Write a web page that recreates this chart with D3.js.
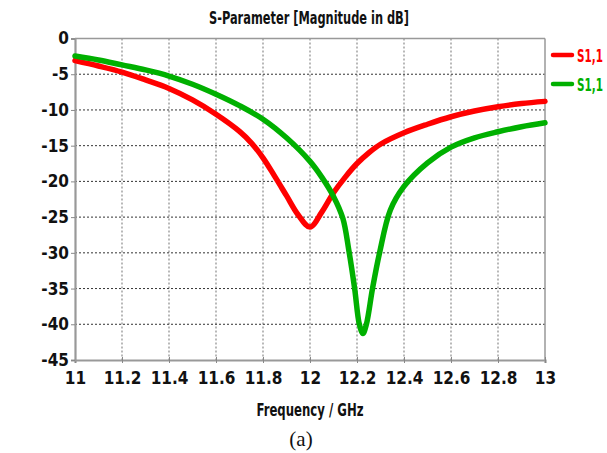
<!DOCTYPE html>
<html>
<head>
<meta charset="utf-8">
<script src="https://cdn.jsdelivr.net/npm/d3@7"></script>
<style>
  body { margin: 0; background: #fff; }
  text { font-family: "DejaVu Sans Condensed", "Liberation Sans Narrow", "DejaVu Sans", sans-serif; font-stretch: condensed; font-weight: bold; }
  text.serif { font-family: "Liberation Serif", serif; font-stretch: normal; font-weight: normal; }
</style>
</head>
<body>
<svg id="grafico" width="607" height="453"></svg>
<script>
// valores
const freqRojo = [11, 11.1, 11.2, 11.3, 11.4, 11.5, 11.6, 11.7, 11.75, 11.8, 11.85, 11.9, 11.95, 12.0, 12.05, 12.1, 12.15, 12.2, 12.25, 12.3, 12.4, 12.5, 12.6, 12.7, 12.8, 12.9, 13];
const s11Rojo = [-3.1, -3.85, -4.7, -5.8, -7.0, -8.6, -10.6, -13.0, -14.6, -16.7, -19.3, -22.0, -24.7, -26.4, -24.3, -21.6, -19.4, -17.5, -16.0, -14.8, -13.2, -12.0, -10.95, -10.15, -9.55, -9.1, -8.8];

const freqVerde = [11, 11.1, 11.2, 11.3, 11.4, 11.5, 11.6, 11.7, 11.8, 11.9, 12.0, 12.05, 12.1, 12.14, 12.165, 12.19, 12.21, 12.225, 12.24, 12.266, 12.296, 12.342, 12.4, 12.5, 12.6, 12.7, 12.8, 12.9, 13];
const s11Verde = [-2.45, -3.0, -3.7, -4.4, -5.25, -6.4, -7.8, -9.4, -11.3, -13.9, -17.2, -19.4, -22.1, -25.2, -29.6, -35, -40, -41.3, -40, -35, -30, -24, -20.7, -17.4, -15.2, -13.9, -13.05, -12.35, -11.8];

const ticksX = [11, 11.2, 11.4, 11.6, 11.8, 12, 12.2, 12.4, 12.6, 12.8, 13];
const ticksY = [0, -5, -10, -15, -20, -25, -30, -35, -40, -45];
const leyenda = ["S1,1", "S1,1"];

const svg = d3.select("#grafico");
const izq = 75, der = 545, arriba = 38.5, abajo = 360;

const x = d3.scaleLinear().domain([11, 13]).range([izq, der]);
const y = d3.scaleLinear().domain([0, -45]).range([arriba, abajo]);

// titulo
svg.append("text").attr("x", 309).attr("y", 24).attr("text-anchor", "middle")
  .attr("font-size", 18).attr("fill", "#111")
  .attr("textLength", 200).attr("lengthAdjust", "spacingAndGlyphs")
  .text("S-Parameter [Magnitude in dB]");

// rejilla
svg.append("g").selectAll("line").data(ticksX.slice(1, -1)).join("line")
  .attr("x1", d => x(d)).attr("x2", d => x(d)).attr("y1", arriba).attr("y2", abajo)
  .attr("stroke", "#8a8a8a").attr("stroke-width", 1.2).attr("stroke-dasharray", "2,2");
svg.append("g").selectAll("line").data(ticksY.slice(1, -1)).join("line")
  .attr("x1", izq).attr("x2", der).attr("y1", d => y(d)).attr("y2", d => y(d))
  .attr("stroke", "#333").attr("stroke-width", 1).attr("stroke-dasharray", "2,2");

// marco
svg.append("line").attr("x1", izq).attr("x2", der).attr("y1", arriba).attr("y2", arriba)
  .attr("stroke", "#999").attr("stroke-width", 1.5);
svg.append("line").attr("x1", der).attr("x2", der).attr("y1", arriba).attr("y2", abajo)
  .attr("stroke", "#999").attr("stroke-width", 1.5);

// ejes
const ejeX = svg.append("g").attr("transform", `translate(0,${abajo})`)
  .call(d3.axisBottom(x).tickValues(ticksX).tickSize(3).tickFormat(d => String(d)));
const ejeY = svg.append("g").attr("transform", `translate(${izq},0)`)
  .call(d3.axisLeft(y).tickValues(ticksY).tickSize(4).tickFormat(d => String(d)));
[ejeX, ejeY].forEach(g => {
  g.attr("font-family", null);
  g.select(".domain").attr("stroke", "#999").attr("stroke-width", 2.2);
  g.selectAll(".tick line").attr("stroke", "#888");
  g.selectAll("text").attr("font-size", 17).attr("fill", "#111");
});
ejeX.selectAll(".tick line").attr("y1", -3).attr("y2", 3);
ejeX.selectAll("text").attr("dy", "1.05em");
ejeY.selectAll("text").attr("x", -6);

// curvas
const linea = d3.line().x(d => x(d[0])).y(d => y(d[1])).curve(d3.curveCatmullRom.alpha(0.5));
const series = [
  { datos: d3.zip(freqRojo, s11Rojo), color: "#ff0000" },
  { datos: d3.zip(freqVerde, s11Verde), color: "#00b000" }
];
svg.append("g").selectAll("path").data(series).join("path")
  .attr("d", d => linea(d.datos)).attr("fill", "none")
  .attr("stroke", d => d.color).attr("stroke-width", 5.5)
  .attr("stroke-linejoin", "round").attr("stroke-linecap", "round");

// leyenda
const ley = svg.append("g").selectAll("g").data(series).join("g")
  .attr("transform", (d, i) => `translate(553,${55 + i * 29})`);
ley.append("line").attr("x1", 0).attr("x2", 19).attr("stroke", d => d.color)
  .attr("stroke-width", 4.5).attr("stroke-linecap", "round");
ley.append("text").attr("x", 24).attr("y", 6.5).attr("font-size", 18)
  .attr("textLength", 26).attr("lengthAdjust", "spacingAndGlyphs")
  .attr("fill", d => d.color).text((d, i) => leyenda[i]);

// etiquetas
svg.append("text").attr("x", 310).attr("y", 416).attr("text-anchor", "middle")
  .attr("font-size", 17).attr("fill", "#111")
  .attr("textLength", 107).attr("lengthAdjust", "spacingAndGlyphs")
  .text("Frequency / GHz");
svg.append("text").attr("class", "serif").attr("x", 301).attr("y", 446).attr("text-anchor", "middle")
  .attr("font-size", 21).attr("fill", "#111").text("(a)");
</script>
</body>
</html>
